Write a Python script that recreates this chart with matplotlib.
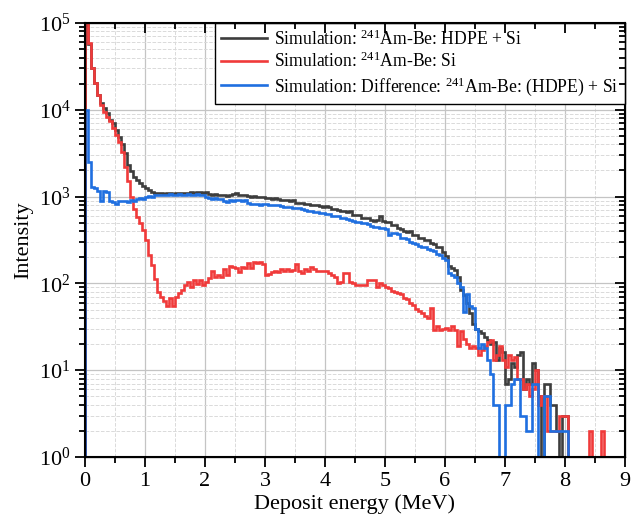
import numpy as np
import matplotlib.pyplot as plt
from matplotlib import ticker

plt.rcParams['font.family'] = 'Liberation Serif'
plt.rcParams['mathtext.fontset'] = 'custom'
plt.rcParams['mathtext.rm'] = 'Liberation Serif'
plt.rcParams['mathtext.it'] = 'Liberation Serif:italic'

# bin edges, 0.05 MeV wide
edges = np.linspace(0, 9, 181)

hdpe_si = [
    95000, 58000, 30000, 20500, 15000, 12000, 10500, 9100, 7600, 7000, 5900, 4900, 4000, 3200, 2300, 1950, 1700, 1550, 1420, 1320,
    1260, 1180, 1140, 1110, 1100, 1090, 1080, 1100, 1090, 1080, 1100, 1090, 1110, 1100, 1090, 1120, 1110, 1130, 1120, 1110,
    1120, 1080, 1050, 1060, 1040, 1050, 1040, 1010, 1030, 1070, 1110, 1050, 1040, 1050, 1010, 1000, 1010, 990, 1000, 990,
    960, 970, 950, 960, 940, 920, 910, 920, 900, 910, 850, 840, 850, 820, 830, 800, 810, 790, 780, 760,
    770, 750, 720, 710, 700, 680, 690, 670, 680, 620, 610, 620, 570, 560, 570, 540, 530, 540, 590, 520,
    510, 515, 470, 465, 430, 425, 400, 395, 400, 365, 360, 335, 330, 315, 318, 290, 285, 265, 260, 230,
    205, 158, 150, 141, 120, 84, 74, 59, 45, 34, 30, 28, 27, 24, 22, 20, 21, 13, 18, 16,
    7, 8, 12, 11, 15, 16, 6, 8, 7, 12, 10, 5, 1, 7, 7, 4, 4, 2, 1, 3,
    3, 1, 1, 1, 1, 1, 1, 1, 1, 1, 1, 1, 1, 1, 1, 1, 1, 1, 1, 1,
]

si_only = [
    120000, 59000, 30000, 20500, 14800, 11500, 9500, 8300, 7400, 6200, 5100, 4300, 3300, 2200, 1500, 1000, 720, 580, 490, 410,
    315, 210, 165, 112, 80, 70, 63, 55, 68, 55, 70, 78, 85, 95, 105, 92, 110, 98, 110, 95,
    105, 115, 140, 118, 125, 120, 148, 125, 160, 155, 150, 135, 155, 152, 170, 150, 175, 170, 178, 168,
    125, 128, 135, 140, 135, 145, 140, 145, 140, 142, 168, 140, 130, 145, 138, 155, 145, 138, 140, 138,
    140, 132, 125, 120, 100, 105, 132, 132, 105, 100, 95, 95, 95, 95, 110, 110, 110, 90, 100, 95,
    92, 88, 82, 80, 78, 75, 68, 66, 60, 56, 51, 48, 46, 42, 40, 52, 29, 32, 29, 30,
    31, 29, 32, 29, 19, 28, 23, 20, 18, 19, 18, 15, 17, 19, 21, 22, 13, 15, 19, 13,
    11, 15, 13, 14, 8, 8, 6, 7, 5, 6, 10, 4, 5, 5, 2, 2, 2, 2, 3, 3,
    3, 1, 1, 1, 1, 1, 1, 1, 2, 1, 1, 1, 2, 1, 1, 1, 1, 1, 1, 1,
]

difference = [
    10000, 2500, 1300, 1250, 1150, 900, 1150, 1120, 880, 860, 830, 900, 880, 900, 870, 920, 900, 930, 960, 950,
    1000, 1010, 1000, 1030, 1040, 1030, 1050, 1040, 1060, 1050, 1040, 1060, 1050, 1040, 1060, 1050, 1040, 1060, 1050, 1030,
    1000, 970, 950, 960, 950, 945, 880, 870, 910, 900, 920, 910, 900, 910, 840, 830, 820, 830, 810, 815,
    820, 810, 800, 810, 790, 770, 760, 765, 750, 745, 740, 735, 720, 700, 690, 680, 670, 660, 650, 640,
    630, 625, 600, 595, 590, 570, 560, 555, 540, 520, 510, 515, 495, 490, 480, 455, 450, 445, 430, 430,
    420, 365, 380, 385, 370, 335, 330, 325, 300, 290, 285, 270, 265, 260, 250, 240, 235, 220, 210, 195,
    185, 130, 125, 120, 100, 92, 47, 75, 55, 52, 30, 18, 20, 18, 13, 9, 4, 4, 1, 1,
    4, 4, 7, 8, 8, 3, 3, 2, 2, 7, 7, 1, 1, 5, 5, 2, 2, 2, 2, 2,
    2, 1, 1, 1, 1, 1, 1, 1, 1, 1, 1, 1, 1, 1, 1, 1, 1, 1, 1, 1,
]

labels = [
    r'Simulation: $^{241}$Am-Be: HDPE + Si',
    r'Simulation: $^{241}$Am-Be: Si',
    r'Simulation: Difference: $^{241}$Am-Be: (HDPE) + Si',
]
colors = ['#3d3d3d', '#f03a3a', '#1f6fe0']

fig = plt.figure(figsize=(6.35, 5.19), dpi=100)
ax = fig.add_axes([0.134, 0.1195, 0.850, 0.8362])

for vals, lab, c in zip([hdpe_si, si_only, difference], labels, colors):
    ax.stairs(vals, edges, color=c, lw=1.9, label=lab)

ax.set_yscale('log')
ax.set_xlim(0, 9)
ax.set_ylim(1, 1e5)
ax.xaxis.set_major_locator(ticker.MultipleLocator(1))
ax.xaxis.set_minor_locator(ticker.MultipleLocator(0.5))
ax.yaxis.set_major_locator(ticker.LogLocator(base=10, numticks=10))
ax.yaxis.set_minor_locator(ticker.LogLocator(base=10, subs=np.arange(2, 10), numticks=20))
ax.yaxis.set_minor_formatter(ticker.NullFormatter())

ax.set_axisbelow(True)
ax.grid(which='major', color='#c4c4c4', lw=0.9)
ax.grid(which='minor', color='#dadada', ls='--', lw=0.7)

ax.tick_params(which='both', direction='out', labelsize=16, width=1.3)
ax.tick_params(which='major', length=7)
ax.tick_params(which='minor', length=4)
for s in ax.spines.values():
    s.set_linewidth(1.5)

# mirrored ticks pointing inwards on top and right
top = ax.twiny()
top.set_xlim(ax.get_xlim())
top.xaxis.set_major_locator(ticker.MultipleLocator(1))
top.xaxis.set_minor_locator(ticker.MultipleLocator(0.5))
top.tick_params(which='both', direction='in', labeltop=False, width=1.3)
top.tick_params(which='major', length=7)
top.tick_params(which='minor', length=4)
right = ax.twinx()
right.set_yscale('log')
right.set_ylim(ax.get_ylim())
right.yaxis.set_major_locator(ticker.LogLocator(base=10, numticks=10))
right.yaxis.set_minor_locator(ticker.LogLocator(base=10, subs=np.arange(2, 10), numticks=20))
right.tick_params(which='both', direction='in', labelright=False, width=1.3)
right.tick_params(which='major', length=7)
right.tick_params(which='minor', length=4)

ax.set_xlabel('Deposit energy (MeV)', fontsize=16, labelpad=3)
ax.set_ylabel('Intensity', fontsize=16)

leg = ax.legend(loc='upper right', borderaxespad=0, fancybox=False, edgecolor='black',
                fontsize=12.7, handlelength=2.6, framealpha=1, labelspacing=0.2,
                handletextpad=0.4, borderpad=0.35)
leg.get_frame().set_linewidth(1.0)
leg.set_zorder(5)

fig.savefig('out.png', dpi=100)
